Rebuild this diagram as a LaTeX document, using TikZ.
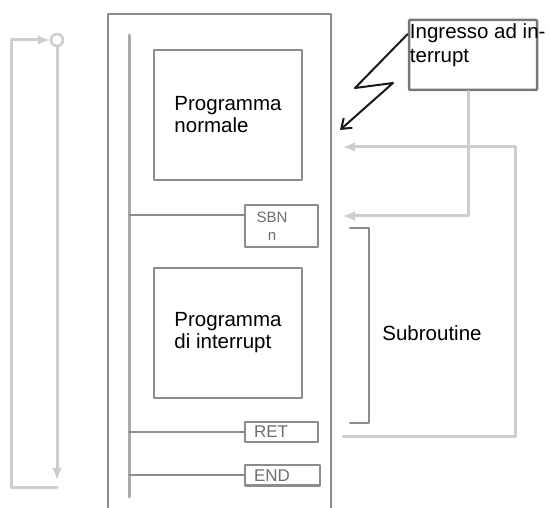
\documentclass[tikz,border=0pt]{standalone}
\usepackage{fontspec}
\setmainfont{Liberation Sans}
\usetikzlibrary{arrows.meta}

\begin{document}
\begin{tikzpicture}[x=1pt, y=-1pt, line cap=round, line join=round]

	\definecolor{frameG}{RGB}{140,140,140}
	\definecolor{railG}{RGB}{170,170,170}
	\definecolor{flowG}{RGB}{205,205,205}
	\definecolor{textG}{RGB}{110,110,110}
	\definecolor{boltK}{RGB}{25,25,25}

	\tikzset{
		frame/.style={draw=frameG, line width=2pt},
		rail/.style={draw=railG, line width=3pt},
		rung/.style={draw=frameG, line width=2pt},
		prog/.style={draw=frameG, line width=2pt, minimum width=148pt, minimum height=130pt, align=left, font=\fontsize{20.5}{22}\selectfont},
		instr/.style={draw=frameG, line width=2pt, minimum height=20pt, text width=55pt, inner xsep=9pt, inner ysep=0pt, align=left, text=textG, font=\fontsize{17}{18}\selectfont},
		inbox/.style={draw=frameG!85!black, line width=2.5pt, rounded corners=1pt, minimum width=128pt, minimum height=70pt},
		flow/.style={draw=flowG, line width=3pt, -{Latex[length=12pt,width=10pt]}},
		bolt/.style={draw=boltK, line width=2pt, -{Straight Barb[length=9pt,width=13pt]}},
		brk/.style={draw=frameG, line width=2pt},
		lab/.style={font=\fontsize{20.5}{24}\selectfont},
	}

	\useasboundingbox (0,0) rectangle (550,508);

	% --- outer frame and rail
	\draw[frame] (108,508) -- (108,14) -- (331,14) -- (331,508);
	\coordinate (railtop) at (129,35);
	\coordinate (railbot) at (129,497);
	\draw[rail] (railtop) -- (railbot);

	% --- program blocks
	\node[prog] (normale) at (228,115) {Programma\\normale};
	\node[prog] (intr) at (228,333) {Programma\\di interrupt};

	% --- instructions
	\node[instr, minimum height=42pt, font=\fontsize{15}{18}\selectfont] (sbn) at (281.5,226) {\makebox[36pt]{SBN}\\\makebox[36pt]{n}};
	\node[instr] (ret) at (281.5,432) {RET};
	\node[instr, text width=57pt] (fine) at (282.5,475.5) {END};

	\coordinate (sbnrung) at ([yshift=11pt]sbn.west);
	\draw[rung] (railtop |- sbnrung) -- (sbnrung);
	\draw[rung] (railtop |- ret.west) -- (ret.west);
	\draw[rung] (railtop |- fine.west) -- (fine.west);

	% --- interrupt input
	\node[inbox, label={[anchor=north west, inner sep=0pt, align=left, lab, xshift=2pt, yshift=-5pt]north west:Ingresso ad in-\\terrupt}] (ingr) at (473,55) {};
	\coordinate (hit) at (340,130);
	\draw[bolt] ([yshift=21pt]ingr.west) -- (355,88) -- (393,83) -- (hit);

	% --- jumps on the right
	\coordinate (sbnin) at (343,216);
	\coordinate (resume) at (343,147);
	\coordinate (retout) at (343,437);
	\draw[flow] ([xshift=-5pt]ingr.south) |- (sbnin);
	\draw[flow] (retout) -- ++(172,0) |- (resume);

	% --- subroutine bracket
	\draw[brk] (350,228) -- (369,228) -- (369,423) -- (350,423);
	\node[lab] (sublab) at (432,333) {Subroutine};

	% --- cyclic scan on the left
	\node[circle, draw=flowG, line width=2.5pt, minimum size=12pt, inner sep=0pt] (start) at (57,40) {};
	\coordinate (loopend) at (57,480);
	\draw[flow] (start.south) -- (loopend);
	\draw[flow] ([yshift=-7pt]loopend) -| ([xshift=-38pt]start.west) -- (start.west);

\end{tikzpicture}
\end{document}
